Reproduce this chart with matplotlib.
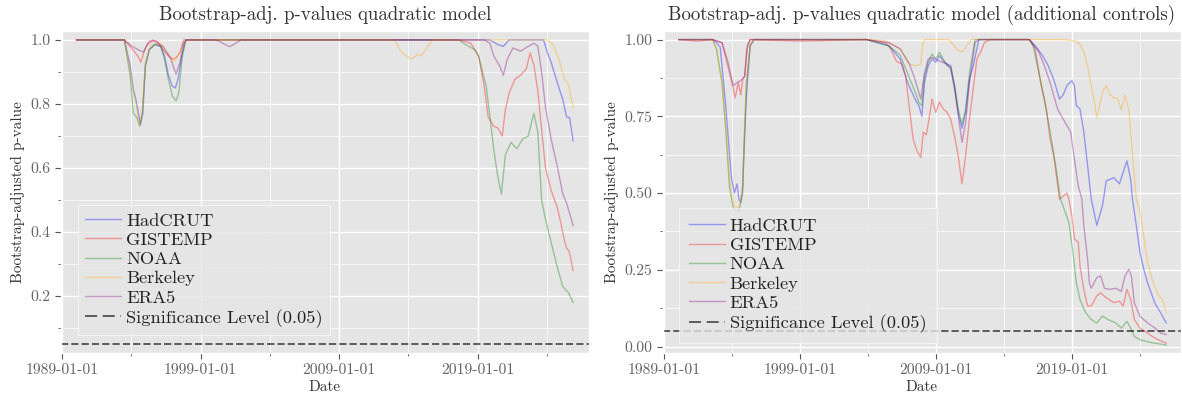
from datetime import datetime, timedelta

import matplotlib

matplotlib.use("Agg")
import matplotlib.dates as mdates
import matplotlib.pyplot as plt
from matplotlib.ticker import FixedLocator, FormatStrFormatter, MultipleLocator

# ---- data (decimal years, p-values) ----
SERIES_NAMES = ["HadCRUT", "GISTEMP", "NOAA", "Berkeley", "ERA5"]
SIG_LEVEL = 0.05
MAJOR_YEARS = [1989, 1999, 2009, 2019]
MINOR_YEARS = [1994, 2004, 2014, 2024]

# left panel: quadratic model
had_l_t = [1990.05, 1993.50, 1993.92, 1994.14, 1994.33, 1994.52, 1994.66, 1994.83, 1995.02, 1995.30,
           1995.71, 1996.13, 1996.40, 1996.68, 1996.96, 1997.18, 1997.37, 1997.65, 1997.92, 2019.88,
           2020.44, 2020.85, 2021.27, 2023.75, 2024.03, 2024.30, 2024.72, 2025.13, 2025.41, 2025.63, 2025.88]
had_l_p = [1.0, 1.0, 0.92, 0.846, 0.815, 0.77, 0.735, 0.77, 0.92, 0.97,
           0.986, 0.98, 0.95, 0.89, 0.856, 0.85, 0.877, 0.95, 1.0, 1.0,
           0.986, 0.98, 1.0, 1.0, 0.96, 0.93, 0.87, 0.815, 0.76, 0.757, 0.685]

gis_l_t = [1990.05, 1993.50, 1993.92, 1994.47, 1994.69, 1994.97, 1995.30, 1995.85, 1996.27, 1996.68,
           1996.96, 1997.23, 1997.51, 1997.78, 2017.67, 2018.50, 2019.06, 2019.47, 2019.75, 2020.16,
           2020.44, 2020.77, 2020.99, 2021.27, 2021.68, 2022.09, 2022.51, 2022.78, 2023.06, 2023.34,
           2023.61, 2023.89, 2024.30, 2024.72, 2024.99, 2025.27, 2025.41, 2025.60, 2025.88]
gis_l_p = [1.0, 1.0, 0.98, 0.95, 0.93, 0.97, 0.997, 0.997, 0.97, 0.95,
           0.94, 0.945, 0.96, 1.0, 1.0, 0.99, 0.95, 0.856, 0.76, 0.73,
           0.726, 0.70, 0.78, 0.835, 0.877, 0.89, 0.91, 0.96, 0.92, 0.84,
           0.72, 0.60, 0.53, 0.48, 0.43, 0.37, 0.35, 0.34, 0.28]

noaa_l_t = [1990.05, 1993.50, 1993.92, 1994.14, 1994.41, 1994.61, 1994.80, 1995.02, 1995.30, 1995.71,
            1996.13, 1996.40, 1996.68, 1996.96, 1997.23, 1997.43, 1997.65, 1997.92, 2017.67, 2017.95,
            2018.78, 2019.06, 2019.61, 2019.88, 2020.16, 2020.44, 2020.71, 2020.99, 2021.40, 2021.82,
            2022.23, 2022.65, 2022.92, 2023.06, 2023.34, 2023.61, 2023.89, 2024.30, 2024.72, 2025.13,
            2025.55, 2025.88]
noaa_l_p = [1.0, 1.0, 0.888, 0.773, 0.757, 0.73, 0.773, 0.92, 0.97, 0.986,
            0.98, 0.94, 0.877, 0.825, 0.81, 0.835, 0.94, 1.0, 1.0, 0.99,
            0.97, 0.95, 0.856, 0.76, 0.658, 0.575, 0.518, 0.64, 0.68, 0.66,
            0.69, 0.70, 0.75, 0.77, 0.71, 0.50, 0.44, 0.367, 0.294, 0.23,
            0.21, 0.18]

berk_l_t = [1990.05, 1993.50, 1994.06, 1994.33, 1994.61, 1994.80, 1995.02, 1995.44, 1996.13, 1996.68,
            1997.09, 1997.37, 1997.78, 1997.98, 2012.98, 2013.53, 2014.22, 2014.64, 2014.91, 2015.74,
            2024.03, 2024.44, 2024.86, 2025.27, 2025.55, 2025.88]
berk_l_p = [1.0, 1.0, 0.87, 0.80, 0.735, 0.78, 0.93, 0.986, 0.99, 0.955,
            0.934, 0.95, 0.99, 1.0, 1.0, 0.96, 0.94, 0.955, 0.95, 1.0,
            1.0, 0.986, 0.94, 0.877, 0.86, 0.79]

era_l_t = [1990.05, 1993.50, 1994.06, 1994.47, 1994.88, 1995.16, 1995.57, 1996.27, 1996.82, 1997.23,
           1997.51, 1997.78, 1998.06, 2000.13, 2001.10, 2001.93, 2019.47, 2019.88, 2020.16, 2020.57,
           2020.85, 2021.13, 2021.54, 2022.09, 2022.65, 2023.06, 2023.34, 2023.61, 2023.89, 2024.30,
           2024.72, 2025.13, 2025.41, 2025.69, 2025.88]
era_l_p = [1.0, 1.0, 0.98, 0.97, 0.962, 0.986, 1.0, 0.98, 0.945, 0.893,
           0.93, 0.99, 1.0, 1.0, 0.979, 1.0, 1.0, 0.99, 0.95, 0.92,
           0.89, 0.94, 0.975, 0.965, 0.98, 0.99, 0.98, 0.90, 0.79, 0.69,
           0.61, 0.52, 0.49, 0.45, 0.42]

# right panel: quadratic model with additional controls
had_r_t = [1990.10, 1992.58, 1992.86, 1993.14, 1993.55, 1993.96, 1994.18, 1994.38, 1994.51, 1994.65,
           1994.79, 1994.85, 1995.07, 1995.34, 1995.62, 2003.89, 2005.54, 2006.37, 2006.92, 2007.47,
           2007.75, 2007.89, 2007.97, 2008.16, 2008.44, 2008.71, 2008.99, 2009.26, 2009.54, 2009.82,
           2010.09, 2010.37, 2010.64, 2010.92, 2011.19, 2011.47, 2011.75, 2012.16, 2015.88, 2016.30,
           2016.85, 2017.26, 2017.67, 2018.09, 2018.36, 2018.64, 2019.00, 2019.19, 2019.33, 2019.60,
           2019.88, 2020.16, 2020.43, 2020.84, 2021.26, 2021.53, 2022.09, 2022.50, 2023.05, 2023.33,
           2023.46, 2023.74, 2024.01, 2024.29, 2024.57, 2025.12, 2025.53, 2025.94]
had_r_p = [1.0, 1.0, 0.99, 0.975, 0.78, 0.55, 0.50, 0.53, 0.48, 0.47,
           0.52, 0.60, 0.82, 0.98, 1.0, 1.0, 0.98, 0.937, 0.86, 0.806,
           0.785, 0.763, 0.75, 0.86, 0.915, 0.937, 0.926, 0.948, 0.93, 0.92,
           0.915, 0.85, 0.763, 0.71, 0.763, 0.87, 0.915, 1.0, 1.0, 0.98,
           0.948, 0.915, 0.87, 0.806, 0.82, 0.85, 0.866, 0.85, 0.785, 0.774,
           0.70, 0.59, 0.48, 0.395, 0.46, 0.54, 0.55, 0.53, 0.605, 0.545,
           0.48, 0.395, 0.307, 0.252, 0.208, 0.14, 0.11, 0.077]

gis_r_t = [1990.10, 1991.48, 1992.58, 1993.27, 1993.69, 1994.10, 1994.24, 1994.46, 1994.65, 1994.79,
           1994.93, 1995.12, 1995.34, 1999.06, 2003.89, 2005.27, 2005.68, 2006.09, 2006.51, 2006.78,
           2007.06, 2007.33, 2007.61, 2007.89, 2008.08, 2008.30, 2008.58, 2008.71, 2008.99, 2009.26,
           2009.54, 2009.82, 2010.09, 2010.37, 2010.64, 2010.92, 2011.19, 2011.47, 2011.75, 2012.02,
           2012.30, 2012.57, 2012.99, 2015.88, 2016.30, 2016.71, 2017.12, 2017.40, 2017.67, 2018.09,
           2018.64, 2018.78, 2019.00, 2019.19, 2019.47, 2019.60, 2019.88, 2020.16, 2020.43, 2020.84,
           2021.12, 2021.53, 2022.09, 2022.50, 2022.77, 2023.05, 2023.33, 2023.60, 2024.01, 2024.57,
           2025.12, 2025.94]
gis_r_p = [1.0, 0.995, 1.0, 0.99, 0.915, 0.84, 0.81, 0.86, 0.82, 0.87,
           0.88, 0.97, 1.0, 0.995, 1.0, 0.99, 0.97, 0.93, 0.92, 0.88,
           0.774, 0.676, 0.638, 0.616, 0.698, 0.69, 0.763, 0.806, 0.763, 0.796,
           0.774, 0.763, 0.741, 0.687, 0.622, 0.53, 0.622, 0.741, 0.84, 0.937,
           0.96, 0.99, 1.0, 1.0, 0.97, 0.86, 0.774, 0.676, 0.622, 0.48,
           0.50, 0.48, 0.428, 0.35, 0.34, 0.263, 0.186, 0.132, 0.132, 0.165,
           0.175, 0.159, 0.143, 0.148, 0.132, 0.186, 0.154, 0.088, 0.06, 0.044,
           0.027, 0.011]

noaa_r_t = [1990.10, 1992.58, 1992.86, 1993.27, 1993.55, 1993.82, 1994.10, 1994.51, 1994.79, 1994.93,
            1995.07, 1995.34, 1995.62, 2003.89, 2005.54, 2006.37, 2006.92, 2007.47, 2007.75, 2007.97,
            2008.16, 2008.44, 2008.71, 2008.99, 2009.26, 2009.54, 2009.82, 2010.09, 2010.37, 2010.64,
            2010.92, 2011.19, 2011.47, 2011.88, 2015.88, 2016.16, 2016.57, 2016.98, 2017.40, 2017.81,
            2018.17, 2018.78, 2019.05, 2019.33, 2019.60, 2020.02, 2020.43, 2020.84, 2021.26, 2021.67,
            2022.22, 2022.64, 2023.05, 2023.33, 2023.60, 2024.01, 2024.84, 2025.94]
noaa_r_p = [1.0, 1.0, 0.97, 0.86, 0.70, 0.52, 0.45, 0.44, 0.50, 0.70,
            0.86, 0.98, 1.0, 1.0, 0.98, 0.95, 0.89, 0.83, 0.795, 0.785,
            0.88, 0.926, 0.953, 0.937, 0.959, 0.937, 0.915, 0.91, 0.85, 0.774,
            0.725, 0.774, 0.89, 1.0, 1.0, 0.98, 0.893, 0.806, 0.70, 0.59,
            0.48, 0.405, 0.318, 0.208, 0.153, 0.11, 0.088, 0.077, 0.099, 0.088,
            0.077, 0.06, 0.082, 0.06, 0.033, 0.022, 0.013, 0.005]

berk_r_t = [1990.10, 1992.58, 1992.86, 1993.27, 1993.55, 1993.82, 1994.10, 1994.51, 1994.79, 1994.93,
            1995.07, 1995.34, 1995.62, 2003.89, 2005.27, 2006.37, 2007.06, 2007.47, 2007.89, 2008.02,
            2008.16, 2009.95, 2010.64, 2010.92, 2011.19, 2011.61, 2018.50, 2019.33, 2019.60, 2019.88,
            2020.16, 2020.43, 2020.71, 2020.84, 2020.98, 2021.26, 2021.53, 2021.81, 2022.09, 2022.36,
            2022.64, 2022.91, 2023.19, 2023.46, 2023.74, 2024.01, 2024.29, 2024.57, 2024.98, 2025.39,
            2025.67, 2025.94]
berk_r_p = [1.0, 1.0, 0.97, 0.86, 0.72, 0.55, 0.46, 0.45, 0.52, 0.72,
            0.87, 0.98, 1.0, 1.0, 0.997, 0.97, 0.92, 0.915, 0.92, 0.98,
            1.0, 1.0, 0.965, 0.96, 0.975, 1.0, 1.0, 0.995, 0.985, 0.96,
            0.915, 0.85, 0.785, 0.746, 0.77, 0.83, 0.85, 0.82, 0.81, 0.81,
            0.77, 0.82, 0.77, 0.63, 0.48, 0.44, 0.36, 0.274, 0.208, 0.165,
            0.153, 0.11]

era_r_t = [1990.10, 1992.58, 1993.27, 1993.69, 1994.10, 1994.38, 1994.65, 1994.93, 1995.12, 1995.34,
           2003.89, 2005.54, 2006.37, 2007.06, 2007.47, 2007.89, 2008.16, 2008.44, 2008.71, 2009.26,
           2009.82, 2010.09, 2010.37, 2010.64, 2010.92, 2011.19, 2011.47, 2011.88, 2012.16, 2015.88,
           2016.16, 2016.57, 2016.98, 2017.40, 2017.95, 2018.50, 2018.91, 2019.19, 2019.47, 2019.74,
           2019.88, 2020.16, 2020.29, 2020.43, 2020.84, 2021.12, 2021.40, 2021.81, 2022.22, 2022.64,
           2022.91, 2023.19, 2023.38, 2023.60, 2024.01, 2024.57, 2025.12, 2025.53, 2025.94]
era_r_p = [1.0, 1.0, 0.99, 0.93, 0.85, 0.86, 0.867, 0.88, 0.98, 1.0,
           1.0, 0.99, 0.97, 0.92, 0.87, 0.806, 0.89, 0.937, 0.942, 0.93,
           0.92, 0.905, 0.84, 0.754, 0.665, 0.73, 0.86, 0.99, 1.0, 1.0,
           0.985, 0.96, 0.915, 0.86, 0.774, 0.73, 0.70, 0.61, 0.524, 0.48,
           0.395, 0.285, 0.208, 0.19, 0.225, 0.23, 0.19, 0.186, 0.19, 0.18,
           0.23, 0.252, 0.23, 0.142, 0.099, 0.077, 0.06, 0.044, 0.039]

COLORS = ["blue", "red", "green", "orange", "purple"]


def to_dates(years):
    return [datetime(int(y), 1, 1) + timedelta(days=(y - int(y)) * 365.25) for y in years]


def draw_panel(axis, series, title, ylim, major_step, legend_anchor, borderpad):
    for name, color, (t, p) in zip(SERIES_NAMES, COLORS, series):
        axis.plot(to_dates(t), p, color=color, alpha=0.35, linewidth=1.0, label=name)
    axis.axhline(SIG_LEVEL, color="black", alpha=0.6, linestyle="--", linewidth=1.4,
                 label=f"Significance Level ({SIG_LEVEL})")

    axis.set_xlim(datetime(1988, 12, 6), datetime(2027, 1, 12))
    axis.set_ylim(*ylim)
    axis.xaxis.set_major_locator(FixedLocator(mdates.date2num([datetime(y, 1, 1) for y in MAJOR_YEARS])))
    axis.xaxis.set_minor_locator(FixedLocator(mdates.date2num([datetime(y, 1, 1) for y in MINOR_YEARS])))
    axis.xaxis.set_major_formatter(mdates.DateFormatter("%Y-%m-%d"))
    axis.yaxis.set_major_locator(MultipleLocator(major_step))
    axis.yaxis.set_minor_locator(MultipleLocator(major_step / 2))
    axis.grid(True, which="major", color="white", linewidth=1.0)
    axis.grid(True, which="minor", color="white", linewidth=0.5)
    axis.tick_params(which="major", length=4, color="#555555", labelcolor="#666666", labelsize=11.3)
    axis.tick_params(which="minor", length=2, color="#555555")

    axis.set_title(title, fontsize=13.6, color="#333333", pad=8)
    axis.set_xlabel("Date", fontsize=11, color="#333333", labelpad=2)
    axis.set_ylabel("Bootstrap-adjusted p-value", fontsize=11, color="#333333", labelpad=4)
    legend = axis.legend(loc="lower left", bbox_to_anchor=legend_anchor, borderaxespad=0,
                         fontsize=13.3, labelspacing=0.18, handlelength=1.95, handletextpad=0.25,
                         borderpad=borderpad, framealpha=0.8, facecolor="#E5E5E5", edgecolor="white",
                         fancybox=False)
    for text in legend.get_texts():
        text.set_color("#222222")
    legend.get_lines()[-1].set_dashes((6.2, 2.9))


def main():
    plt.style.use("ggplot")
    plt.rcParams["font.family"] = ["cmr10", "DejaVu Serif"]
    plt.rcParams["mathtext.fontset"] = "cm"
    plt.rcParams["axes.formatter.use_mathtext"] = True

    W, H = 1182, 400
    figure = plt.figure(figsize=(W / 100, H / 100), dpi=100)
    left = figure.add_axes([61 / W, 1 - 353 / H, 528 / W, 322 / H])
    right = figure.add_axes([663 / W, 1 - 353 / H, 518 / W, 322 / H])

    draw_panel(
        left,
        [(had_l_t, had_l_p), (gis_l_t, gis_l_p), (noaa_l_t, noaa_l_p), (berk_l_t, berk_l_p), (era_l_t, era_l_p)],
        "Bootstrap-adj. p-values quadratic model",
        (0.022, 1.028),
        0.2,
        (17 / 528, 18 / 322),
        0.4,
    )
    draw_panel(
        right,
        [(had_r_t, had_r_p), (gis_r_t, gis_r_p), (noaa_r_t, noaa_r_p), (berk_r_t, berk_r_p), (era_r_t, era_r_p)],
        "Bootstrap-adj. p-values quadratic model (additional controls)",
        (-0.021, 1.028),
        0.25,
        (16 / 518, 10 / 322),
        0.55,
    )
    left.yaxis.set_major_formatter(FormatStrFormatter("%.1f"))
    right.yaxis.set_major_formatter(FormatStrFormatter("%.2f"))

    figure.savefig("out.png", dpi=100)
    plt.close(figure)


if __name__ == "__main__":
    main()
